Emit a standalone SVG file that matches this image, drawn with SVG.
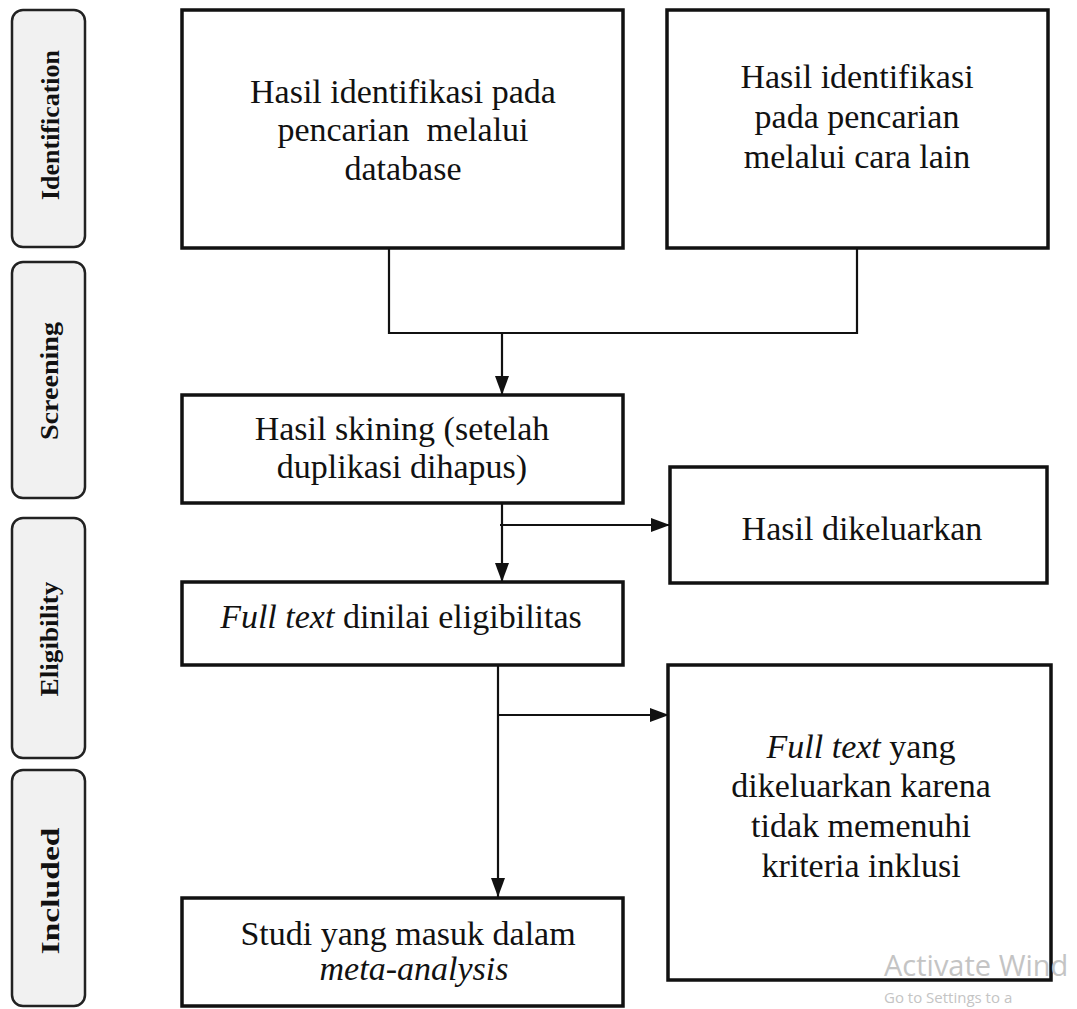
<svg xmlns="http://www.w3.org/2000/svg" width="1077" height="1009" viewBox="0 0 1077 1009">
<style>
.stage{fill:#f1f1f1;stroke:#222;stroke-width:2.5}
.stxt{font-family:"Liberation Serif","Times New Roman",serif;font-weight:bold;font-size:26px;fill:#111;text-anchor:middle}
.box{fill:#fff;stroke:#111;stroke-width:3.5}
.t{font-family:"Liberation Serif","Times New Roman",serif;font-size:34px;fill:#111;text-anchor:middle}
.conn{fill:none;stroke:#111;stroke-width:2.2}
.wm{font-family:"Open Sans","Noto Sans",sans-serif;fill:#c4c4c4}
</style>
<defs>
<marker id="arr" markerUnits="userSpaceOnUse" markerWidth="20" markerHeight="16" refX="19" refY="7" orient="auto">
<path d="M0,0 L19,7 L0,14 Z" fill="#111"/>
</marker>
</defs>
<rect width="1077" height="1009" fill="#fff"/>
<g id="stage-identification">
<rect class="stage" x="12" y="10" width="73" height="237" rx="11"/>
<text class="stxt" transform="translate(59,125) rotate(-90)" textLength="150" lengthAdjust="spacingAndGlyphs">Identification</text>
</g>
<g id="stage-screening">
<rect class="stage" x="12" y="262" width="73" height="236" rx="11"/>
<text class="stxt" transform="translate(58,381) rotate(-90)" textLength="118" lengthAdjust="spacingAndGlyphs">Screening</text>
</g>
<g id="stage-eligibility">
<rect class="stage" x="12" y="518" width="73" height="240" rx="11"/>
<text class="stxt" transform="translate(58,639) rotate(-90)" textLength="115" lengthAdjust="spacingAndGlyphs">Eligibility</text>
</g>
<g id="stage-included">
<rect class="stage" x="12" y="770" width="73" height="236" rx="11"/>
<text class="stxt" transform="translate(59,891) rotate(-90)" textLength="127" lengthAdjust="spacingAndGlyphs">Included</text>
</g>
<g id="connectors">
<path class="conn" d="M389,248 V333 H857 V248"/>
<path class="conn" d="M502,333 V395" marker-end="url(#arr)"/>
<path class="conn" d="M502,503 V582" marker-end="url(#arr)"/>
<path class="conn" d="M500,525 H670" marker-end="url(#arr)"/>
<path class="conn" d="M498,665 V897" marker-end="url(#arr)"/>
<path class="conn" d="M498,715 H669" marker-end="url(#arr)"/>
</g>
<g id="node-database">
<rect class="box" x="182" y="10" width="441" height="238"/>
<text class="t" x="403" y="103">Hasil identifikasi pada</text>
<text class="t" x="403" y="141" xml:space="preserve">pencarian  melalui</text>
<text class="t" x="403" y="180">database</text>
</g>
<g id="node-other">
<rect class="box" x="667" y="10" width="381" height="238"/>
<text class="t" x="857" y="88">Hasil identifikasi</text>
<text class="t" x="857" y="128">pada pencarian</text>
<text class="t" x="857" y="168">melalui cara lain</text>
</g>
<g id="node-screening">
<rect class="box" x="182" y="395" width="441" height="108"/>
<text class="t" x="402" y="440">Hasil skining (setelah</text>
<text class="t" x="402" y="478">duplikasi dihapus)</text>
</g>
<g id="node-excluded">
<rect class="box" x="670" y="467" width="377" height="116"/>
<text class="t" x="862" y="540">Hasil dikeluarkan</text>
</g>
<g id="node-fulltext">
<rect class="box" x="182" y="582" width="441" height="83"/>
<text class="t" x="401" y="628"><tspan font-style="italic">Full text</tspan> dinilai eligibilitas</text>
</g>
<g id="node-fulltext-excluded">
<rect class="box" x="668" y="665" width="383" height="315"/>
<text class="t" x="861" y="758"><tspan font-style="italic">Full text</tspan> yang</text>
<text class="t" x="861" y="797">dikeluarkan karena</text>
<text class="t" x="861" y="837">tidak memenuhi</text>
<text class="t" x="861" y="877">kriteria inklusi</text>
</g>
<g id="node-included">
<rect class="box" x="182" y="898" width="441" height="108"/>
<text class="t" x="408" y="945">Studi yang masuk dalam</text>
<text class="t" x="414" y="980" font-style="italic">meta-analysis</text>
</g>
<g id="watermark">
<text class="wm" x="884" y="976" font-size="29">Activate Wind</text>
<text class="wm" x="884" y="1003" font-size="15">Go to Settings to a</text>
</g>
</svg>
